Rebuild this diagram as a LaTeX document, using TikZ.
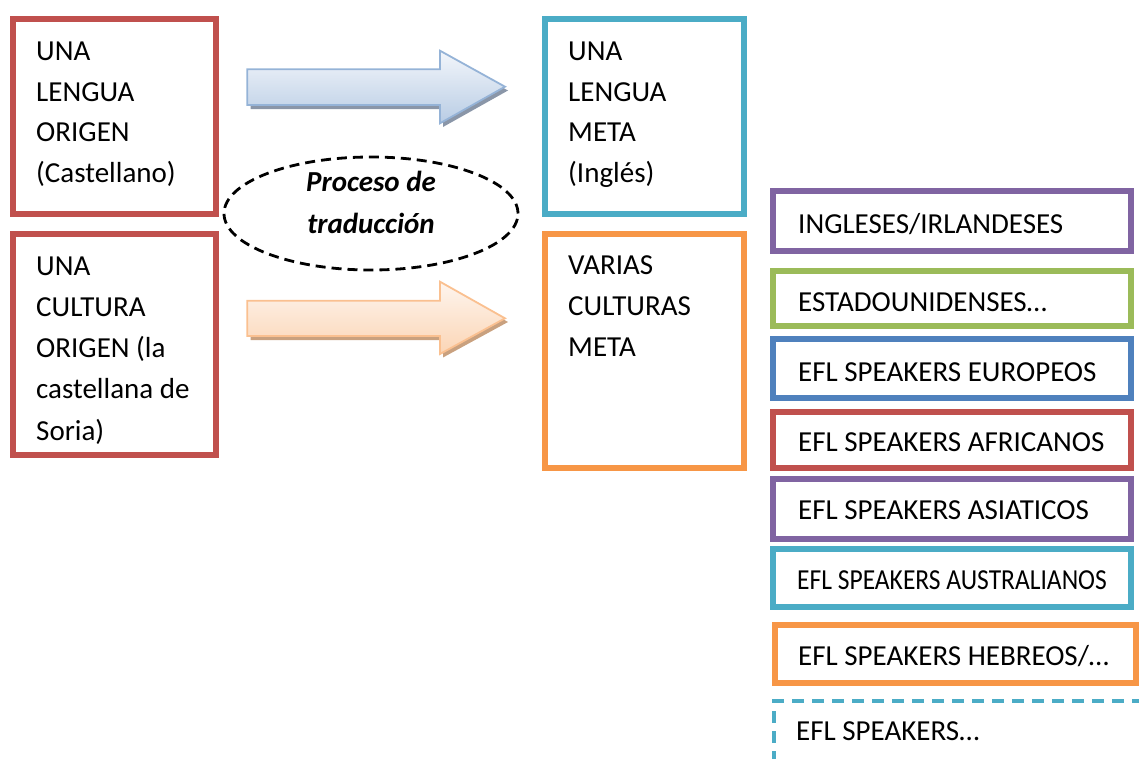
\documentclass[tikz,border=0pt]{standalone}
\usepackage{fontspec}
\setmainfont{Carlito}
\usetikzlibrary{shapes.geometric}
\definecolor{cred}{HTML}{C0504D}
\definecolor{cteal}{HTML}{4BACC6}
\definecolor{corange}{HTML}{F79646}
\definecolor{cpurple}{HTML}{8064A2}
\definecolor{cgreen}{HTML}{9BBB59}
\definecolor{cblue}{HTML}{4F81BD}
\definecolor{abluetop}{HTML}{F3F6FB}
\definecolor{ablueBot}{HTML}{B8CCE4}
\definecolor{abluedraw}{HTML}{95B3D7}
\definecolor{ablueshadow}{HTML}{8A96A8}
\definecolor{aorTop}{HTML}{FEF5EE}
\definecolor{aorBot}{HTML}{FBD5B5}
\definecolor{aordraw}{HTML}{FAC090}
\definecolor{aorshadow}{HTML}{C9A17F}
\begin{document}
\begin{tikzpicture}[x=1pt,y=-1pt,
  box/.style={draw, line width=6pt, inner sep=0pt},
  rbox/.style={box, minimum width=357.7pt},
  txt/.style={anchor=base west, inner sep=0pt, font=\fontsize{29}{41}\selectfont},
  ptxt/.style={anchor=base, inner sep=0pt, font=\fontsize{29}{41}\selectfont\bfseries\itshape},
  blockarrow/.style={line width=1.8pt, line join=miter}
]
\useasboundingbox (0,0) rectangle (1139,758);
\clip (0,0) rectangle (1139,758);

% block arrows
\fill[ablueshadow] (250.5,73) -- (443,73) -- (443,54.5) -- (508,90.5) -- (443,127) -- (443,109) -- (250.5,109) -- cycle;
\draw[blockarrow, draw=abluedraw, top color=abluetop, bottom color=ablueBot]
  (247.3,69.3) -- (440,69.3) -- (440,50.7) -- (505,86.7) -- (440,123.3) -- (440,105) -- (247.3,105) -- cycle;
\fill[aorshadow] (250.5,304.5) -- (443,304.5) -- (443,285.5) -- (508,322) -- (443,357.5) -- (443,340) -- (250.5,340) -- cycle;
\draw[blockarrow, draw=aordraw, top color=aorTop, bottom color=aorBot]
  (247.3,300.7) -- (440,300.7) -- (440,281.7) -- (505,318.3) -- (440,354) -- (440,336) -- (247.3,336) -- cycle;

% left boxes
\node[box, draw=cred, minimum width=203pt, minimum height=195pt] (b1) at (114.5,116) {};
\node[txt] (b1a) at (36,60.5) {UNA};
\node[txt] (b1b) at (36,101) {LENGUA};
\node[txt] (b1c) at (36,141.5) {ORIGEN};
\node[txt] (b1d) at (36,182.5) {(Castellano)};

\node[box, draw=cred, minimum width=203pt, minimum height=220.5pt] (b2) at (114.5,344.25) {};
\node[txt] (b2a) at (36,275) {UNA};
\node[txt] (b2b) at (36,316.5) {CULTURA};
\node[txt] (b2c) at (36,357.5) {ORIGEN (la};
\node[txt] (b2d) at (36,398.5) {castellana de};
\node[txt] (b2e) at (36,440) {Soria)};

% middle boxes
\node[box, draw=cteal, minimum width=198.7pt, minimum height=194.7pt] (b3) at (644.35,116.35) {};
\node[txt] (b3a) at (568,60.5) {UNA};
\node[txt] (b3b) at (568,101) {LENGUA};
\node[txt] (b3c) at (568,141.5) {META};
\node[txt] (b3d) at (568,182.5) {(Inglés)};

\node[box, draw=corange, minimum width=198.7pt, minimum height=234pt] (b4) at (644.35,351) {};
\node[txt] (b4a) at (568,274) {VARIAS};
\node[txt] (b4b) at (568,315.5) {CULTURAS};
\node[txt] (b4c) at (568,356.5) {META};

% ellipse
\node[ellipse, draw=black, line width=2.8pt, dash pattern=on 10pt off 6pt,
  minimum width=294pt, minimum height=113pt, inner sep=0pt] (proc) at (371,213.5) {};
\node[ptxt] (proc1) at (371,191.7) {Proceso de};
\node[ptxt] (proc2) at (371,233.3) {traducción};

% right boxes
\node[rbox, draw=cpurple, minimum height=60.3pt] (r1) at (952.15,220.85) {};
\node[txt] (r1t) at (798,233.3) {INGLESES/IRLANDESES};
\node[rbox, draw=cgreen, minimum height=55.3pt] (r2) at (952.15,298.35) {};
\node[txt] (r2t) at (798,311.7) {ESTADOUNIDENSES…};
\node[rbox, draw=cblue, minimum height=58.4pt] (r3) at (952.15,368.5) {};
\node[txt] (r3t) at (798,381.7) {EFL SPEAKERS EUROPEOS};
\node[rbox, draw=cred, minimum height=56pt] (r4) at (952.15,440.3) {};
\node[txt] (r4t) at (798,451.7) {EFL SPEAKERS AFRICANOS};
\node[rbox, draw=cpurple, minimum height=59.7pt] (r5) at (952.15,509.15) {};
\node[txt] (r5t) at (798,519.5) {EFL SPEAKERS ASIATICOS};
\node[rbox, draw=cteal, minimum height=57.5pt] (r6) at (952.15,577.95) {};
\node[txt] (r6t) at (797,589.5) {\scalebox{0.88}[1]{EFL SPEAKERS AUSTRALIANOS}};
\node[box, draw=corange, minimum width=361pt, minimum height=58.3pt] (r7) at (955.5,654.15) {};
\node[txt] (r7t) at (798,665) {EFL SPEAKERS HEBREOS/…};
\node[draw=cteal, line width=3.4pt, dash pattern=on 12pt off 8pt, inner sep=0pt,
  minimum width=400pt, minimum height=90pt] (r8) at (974,746) {};
\node[txt] (r8t) at (796,740) {EFL SPEAKERS…};
\end{tikzpicture}
\end{document}
